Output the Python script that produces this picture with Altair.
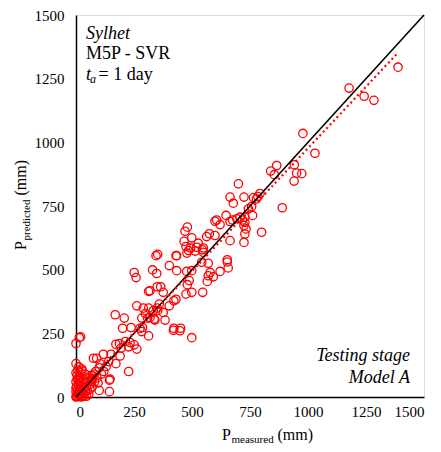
import altair as alt
import pandas as pd

# measured (x) and predicted (y) precipitation, mm
meas = [1388, 1177, 1242, 1284, 978, 1030, 941, 951, 973, 940, 865, 839, 855, 700, 724, 678, 664,
        793, 784, 778, 765, 757, 743, 761, 728, 889, 693, 718, 728, 724, 733, 707, 800, 728, 724,
        647, 664, 675, 606, 599, 621, 664, 480, 470, 466, 499, 474, 494, 520, 549, 527, 575, 563,
        599, 652, 549, 434, 485, 513, 545, 478, 345, 352, 431, 330, 348, 402, 434, 477, 499, 542,
        570, 578, 570, 621, 652, 656, 592, 566, 488, 480, 474, 499, 546, 350, 365, 376, 319, 431,
        422, 359, 350, 376, 402, 340, 384, 422, 451, 319, 251, 259, 313, 262, 290, 313, 333, 352,
        299, 284, 309, 337, 169, 208, 14, 0, 20, 201, 237, 287, 313, 276, 283, 420, 448, 499, 172,
        187, 194, 213, 233, 251, 227, 262, 118, 151, 75, 89, 141, 172, 190, 227, 100, 72, 144, 100,
        144, 0, 12, 26, 147, 68,
        0, 2, 5, 0, 8, 3, 10, 0, 5, 15, 0, 8, 18, 12, 20, 25, 30, 15, 20, 35, 40, 45, 38, 30, 50,
        55, 60, 48, 60, 65, 70, 78, 80, 85, 40, 25, 5, 22, 32, 55, 70, 90, 95, 110, 120, 105, 130,
        3, 10, 28, 45, 15, 0]
pred = [1295, 1213, 1181, 1165, 1035, 957, 912, 879, 877, 848, 909, 887, 873, 837, 785, 761, 785,
        799, 787, 778, 783, 748, 739, 713, 706, 743, 700, 695, 686, 673, 660, 706, 647, 640, 607,
        713, 689, 695, 695, 690, 677, 614, 667, 651, 611, 625, 591, 585, 588, 585, 604, 641, 630,
        634, 539, 568, 555, 575, 573, 578, 565, 555, 560, 555, 499, 485, 516, 496, 493, 496, 529,
        525, 489, 476, 493, 530, 507, 472, 454, 457, 441, 404, 411, 411, 433, 433, 411, 417, 384,
        378, 365, 349, 332, 358, 302, 302, 270, 270, 312, 489, 469, 415, 358, 349, 349, 339, 339,
        328, 310, 310, 306, 323, 310, 233, 210, 236, 270, 273, 273, 240, 270, 257, 262, 260, 233, 207,
        210, 192, 218, 214, 205, 197, 188, 168, 168, 152, 152, 139, 131, 161, 100, 115, 83, 66, 26,
        21, 131, 118, 102, 70, 63,
        0, 5, 12, 20, 30, 40, 50, 60, 70, 80, 95, 105, 95, 65, 45, 30, 15, 10, 0, 5, 20, 40, 55, 70,
        60, 75, 50, 25, 30, 85, 70, 90, 60, 100, 90, 110, 85, 58, 38, 10, 40, 75, 55, 90, 100, 130,
        120, 2, 3, 2, 3, 25, 35]

trend_x = [0, 1385]
trend_y = [11, 1349]
line_x = [0, 1500]
line_y = [0, 1500]
ticks = [0, 250, 500, 750, 1000, 1250, 1500]

pts = pd.DataFrame({"m": meas, "p": pred})
trend = pd.DataFrame({"m": trend_x, "p": trend_y})
ident = pd.DataFrame({"m": line_x, "p": line_y})

FONT = "Times New Roman, Liberation Serif, serif"
xs = alt.Scale(domain=[0, 1500], nice=False)
ys = alt.Scale(domain=[0, 1500], nice=False)

xax = alt.Axis(values=ticks, format="d", title=None, labelPadding=7)
yax = alt.Axis(values=ticks, format="d", title=None, labelPadding=12)

base_pts = alt.Chart(pts).mark_point(shape="circle", filled=False, color="#ff0000",
                                      strokeWidth=1.3, size=70, opacity=1).encode(
    x=alt.X("m:Q", scale=xs, axis=xax),
    y=alt.Y("p:Q", scale=ys, axis=yax),
)

one = alt.Chart(ident).mark_line(color="black", strokeWidth=1.6).encode(
    x=alt.X("m:Q", scale=xs, axis=xax), y=alt.Y("p:Q", scale=ys, axis=yax))

tr = alt.Chart(trend).mark_line(color="#ff0000", strokeWidth=2.2, strokeDash=[2, 3]).encode(
    x=alt.X("m:Q", scale=xs, axis=xax), y=alt.Y("p:Q", scale=ys, axis=yax))

def txt(s, x, y, size=18, style="normal", align="left", angle=0):
    return alt.Chart(pd.DataFrame({"t": [s]})).mark_text(
        font=FONT, fontSize=size, fontStyle=style, align=align, baseline="alphabetic",
        color="black", angle=angle).encode(x=alt.value(x), y=alt.value(y), text="t:N")

labels = [
    txt("Sylhet", 10, 23.5, style="italic"),
    txt("M5P - SVR", 10, 44),
    txt("t", 10, 64.5, style="italic"),
    txt("a", 14, 68, size=12, style="italic"),
    txt("= 1 day", 22.5, 64.5),
    txt("Testing stage", 334, 345.5, style="italic", align="right"),
    txt("Model A", 334, 368, style="italic", align="right"),
    # x axis title
    txt("P", 146, 425, size=16),
    txt("measured", 155.5, 428, size=11),
    txt("(mm)", 201.5, 425, size=16),
    # y axis title
    txt("P", -50, 235, size=16, angle=270),
    txt("predicted", -46, 225.5, size=11, angle=270),
    txt("(mm)", -50, 180.5, size=16, angle=270),
]

chart = alt.layer(base_pts, one, tr, *labels).properties(
    width=348, height=382,
    autosize=alt.AutoSizeParams(type="none"),
    padding={"left": 68, "top": 7, "right": 9, "bottom": 47},
).configure_view(stroke="black", strokeWidth=1.5).configure(background="white").configure_axis(
    ticks=False, grid=False, labelFont=FONT, labelFontSize=15, labelColor="black",
    domainColor="black", domainWidth=1.5)

chart.save("out.html", embed_options={"renderer": "svg", "actions": False})
